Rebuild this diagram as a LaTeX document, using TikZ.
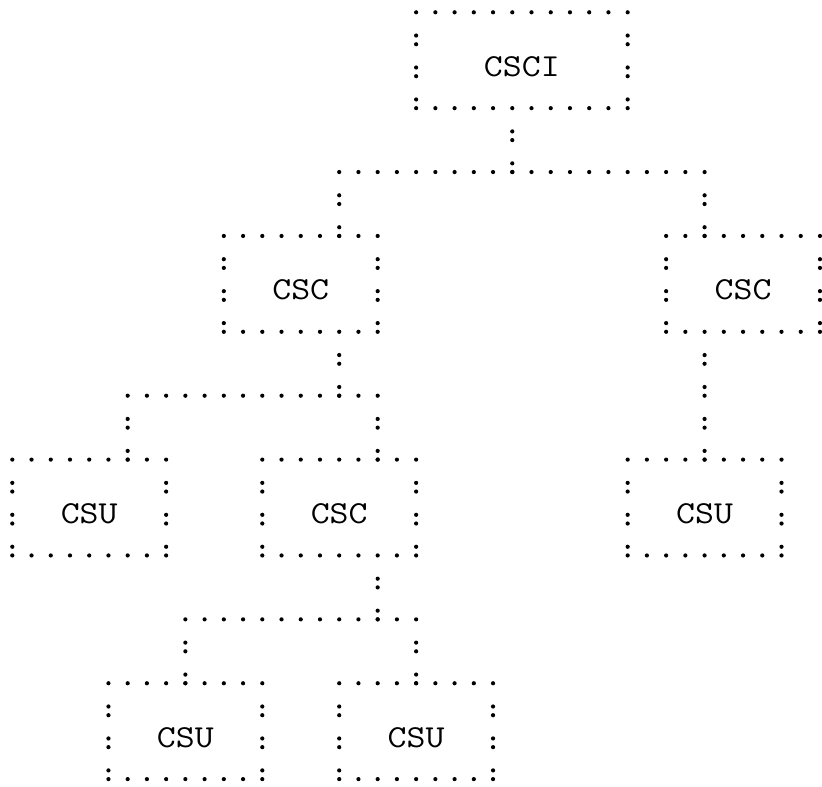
\documentclass[tikz,border=0pt]{standalone}
\usepackage{fontspec}
\usepackage{graphicx}
\tikzset{
  dotc/.style={fill=black},
  lbl/.style={anchor=base, inner sep=0pt, font=\ttfamily\fontsize{32}{32}\selectfont}
}
% a row of baseline dots: row, first column, last column
\newcommand\DotRow[3]{\foreach \cc in {#2,...,#3}{\fill[dotc] ({12.3+19.23*\cc},{12.3+31.95*#1}) circle[radius=2.1];}}
% a column of colons: column, first row, last row
\newcommand\ColonCol[3]{\foreach \rr in {#2,...,#3}{\fill[dotc] ({12.3+19.23*#1},{12.3+31.95*\rr}) circle[radius=2.1] ({12.3+19.23*#1},{3.6+31.95*\rr}) circle[radius=2.1];}}
\newcommand\BoxLabel[4]{\node[lbl] (#1) at ({12.3+19.23*#2},{12.3+31.95*#3}) {\scalebox{1.15}[1]{#4}};}
\begin{document}
\begin{tikzpicture}[x=1pt,y=-1pt]
\useasboundingbox (0,0) rectangle (822,787);
% CSCI box
\DotRow{0}{21}{32}
\ColonCol{21}{1}{3}\ColonCol{32}{1}{3}
\DotRow{3}{22}{31}
\BoxLabel{csci}{26.5}{2}{CSCI}
% CSCI -> CSC connectors
\ColonCol{26}{4}{5}
\DotRow{5}{17}{36}
\ColonCol{17}{6}{7}\ColonCol{36}{6}{7}
% left CSC
\DotRow{7}{11}{19}
\ColonCol{11}{8}{10}\ColonCol{19}{8}{10}
\DotRow{10}{12}{18}
\BoxLabel{cscL}{15}{9}{CSC}
% right CSC
\DotRow{7}{34}{42}
\ColonCol{34}{8}{10}\ColonCol{42}{8}{10}
\DotRow{10}{35}{41}
\BoxLabel{cscR}{38}{9}{CSC}
% left CSC -> children
\ColonCol{17}{11}{12}
\DotRow{12}{6}{19}
\ColonCol{6}{13}{14}\ColonCol{19}{13}{14}
% right CSC -> CSU
\ColonCol{36}{11}{14}
% CSU left
\DotRow{14}{0}{8}
\ColonCol{0}{15}{17}\ColonCol{8}{15}{17}
\DotRow{17}{1}{7}
\BoxLabel{csuL}{4}{16}{CSU}
% CSC middle
\DotRow{14}{13}{21}
\ColonCol{13}{15}{17}\ColonCol{21}{15}{17}
\DotRow{17}{14}{20}
\BoxLabel{cscM}{17}{16}{CSC}
% CSU right
\DotRow{14}{32}{40}
\ColonCol{32}{15}{17}\ColonCol{40}{15}{17}
\DotRow{17}{33}{39}
\BoxLabel{csuR}{36}{16}{CSU}
% middle CSC -> children
\ColonCol{19}{18}{19}
\DotRow{19}{9}{21}
\ColonCol{9}{20}{21}\ColonCol{21}{20}{21}
% bottom CSU left
\DotRow{21}{5}{13}
\ColonCol{5}{22}{24}\ColonCol{13}{22}{24}
\DotRow{24}{6}{12}
\BoxLabel{csuA}{9}{23}{CSU}
% bottom CSU right
\DotRow{21}{17}{25}
\ColonCol{17}{22}{24}\ColonCol{25}{22}{24}
\DotRow{24}{18}{24}
\BoxLabel{csuB}{21}{23}{CSU}
\end{tikzpicture}
\end{document}
